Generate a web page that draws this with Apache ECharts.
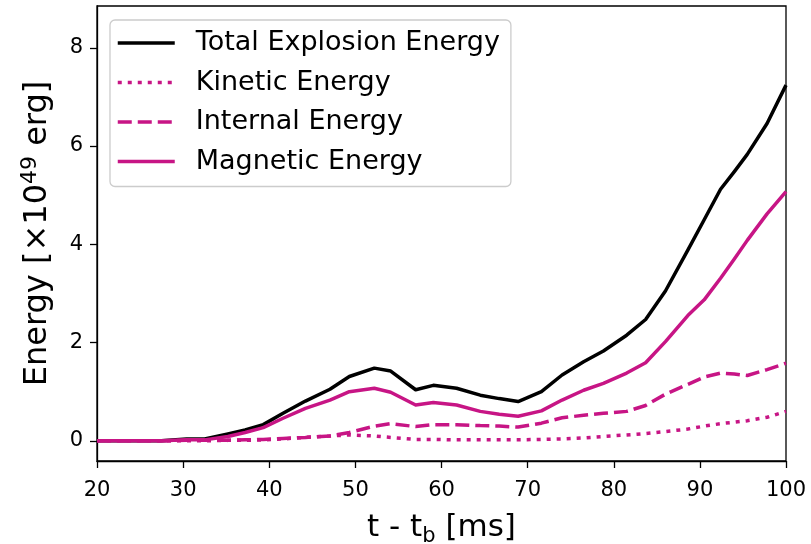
<!DOCTYPE html>
<html>
<head>
<meta charset="utf-8">
<script src="https://cdn.jsdelivr.net/npm/echarts@6/dist/echarts.min.js"></script>
<style>
html,body{margin:0;padding:0;background:#fff;}
#chart{width:811px;height:544px;}
</style>
</head>
<body>
<div id="chart"></div>
<script>
const time = [20, 22.5, 25, 27.5, 30.4, 32.5, 35.2, 37.2, 39.3, 41.6, 44.2, 47.05, 49.3, 52.2, 54.1, 57.0, 59.05, 61.75, 64.5, 66.7, 68.9, 71.6, 74.0, 76.5, 78.8, 81.5, 83.7, 86.0, 88.6, 90.5, 92.4, 94.0, 95.5, 97.8, 100];
const totalEnergy = [0, 0, 0, 0, 0.04, 0.04, 0.14, 0.22, 0.33, 0.56, 0.81, 1.05, 1.31, 1.48, 1.42, 1.04, 1.13, 1.07, 0.93, 0.86, 0.80, 1.00, 1.34, 1.61, 1.83, 2.15, 2.47, 3.05, 3.88, 4.50, 5.12, 5.48, 5.83, 6.46, 7.24];
const kineticEnergy = [0, 0, 0, 0, 0, 0, 0.01, 0.01, 0.02, 0.04, 0.07, 0.10, 0.12, 0.10, 0.07, 0.03, 0.03, 0.02, 0.02, 0.02, 0.02, 0.03, 0.04, 0.06, 0.09, 0.12, 0.15, 0.19, 0.24, 0.30, 0.35, 0.38, 0.41, 0.48, 0.60];
const internalEnergy = [0, 0, 0, 0, 0.01, 0.01, 0.01, 0.02, 0.03, 0.05, 0.07, 0.10, 0.17, 0.30, 0.35, 0.29, 0.33, 0.33, 0.31, 0.30, 0.28, 0.36, 0.47, 0.52, 0.56, 0.60, 0.72, 0.95, 1.15, 1.30, 1.38, 1.36, 1.33, 1.45, 1.58];
const magneticEnergy = [0, 0, 0, 0, 0.02, 0.02, 0.09, 0.17, 0.27, 0.46, 0.66, 0.83, 1.00, 1.07, 0.99, 0.73, 0.78, 0.73, 0.60, 0.54, 0.50, 0.61, 0.83, 1.03, 1.17, 1.38, 1.59, 2.02, 2.55, 2.87, 3.31, 3.70, 4.08, 4.62, 5.07];
const seriesNames = ['Total Explosion Energy', 'Kinetic Energy', 'Internal Energy', 'Magnetic Energy'];
const xTicks = [20, 30, 40, 50, 60, 70, 80, 90, 100];
const yTicks = [0, 2, 4, 6, 8];

const MAG = '#c71585';
const FONT = 'DejaVu Sans';
function pairs(ys) { return time.map((t, i) => [t, ys[i]]); }

const chart = echarts.init(document.getElementById('chart'), null, {renderer: 'canvas'});
chart.setOption({
  animation: false,
  backgroundColor: '#ffffff',
  textStyle: {fontFamily: FONT, color: '#000'},
  grid: {left: 97, right: 25, top: 6, bottom: 83, outerBoundsMode: 'none', containLabel: false,
    show: true, borderColor: '#000', borderWidth: 1.3, backgroundColor: 'transparent'},
  legend: {
    left: 110, top: 20, orient: 'vertical',
    data: seriesNames,
    itemWidth: 57, itemHeight: 14, itemGap: 9.5,
    padding: [8, 11, 10, 6],
    backgroundColor: 'rgba(255,255,255,0.8)',
    borderColor: '#cccccc', borderWidth: 1.3, borderRadius: 5,
    itemStyle: {opacity: 0},
    lineStyle: {width: 3.5},
    textStyle: {fontFamily: FONT, fontSize: 27, color: '#000', lineHeight: 30, padding: [0, 0, 0, 16]}
  },
  xAxis: {
    type: 'value', min: 20, max: 100, interval: 10,
    name: 't - t{sub|b} [ms]', nameLocation: 'middle', nameGap: 48,
    nameTextStyle: {fontFamily: FONT, fontSize: 31, color: '#000', lineHeight: 38,
      rich: {sub: {fontFamily: FONT, fontSize: 21, verticalAlign: 'bottom', lineHeight: 24}}},
    axisLine: {show: true, onZero: false, lineStyle: {color: '#000', width: 1.3}},
    axisTick: {show: true, length: 7, lineStyle: {color: '#000', width: 1.3}, customValues: xTicks},
    axisLabel: {fontFamily: FONT, fontSize: 21, color: '#000', margin: 19, customValues: xTicks},
    splitLine: {show: false}
  },
  yAxis: {
    type: 'value', min: -0.41, max: 8.85,
    name: 'Energy [×10{sup|49} erg]', nameLocation: 'middle', nameGap: 40, nameRotate: 90,
    nameTextStyle: {fontFamily: FONT, fontSize: 32, color: '#000', lineHeight: 38,
      rich: {sup: {fontFamily: FONT, fontSize: 22, verticalAlign: 'top', lineHeight: 24}}},
    axisLine: {show: true, onZero: false, lineStyle: {color: '#000', width: 1.3}},
    axisTick: {show: true, length: 7, lineStyle: {color: '#000', width: 1.3}, customValues: yTicks},
    axisLabel: {fontFamily: FONT, fontSize: 21, color: '#000', margin: 14, customValues: yTicks},
    splitLine: {show: false}
  },
  series: [
    {name: seriesNames[0], type: 'line', symbol: 'none', data: pairs(totalEnergy), color: '#000',
      lineStyle: {color: '#000', width: 3.5, cap: 'butt', join: 'round'}},
    {name: seriesNames[1], type: 'line', symbol: 'none', data: pairs(kineticEnergy), color: MAG,
      lineStyle: {color: MAG, width: 3.5, type: [4, 6], cap: 'butt'}},
    {name: seriesNames[2], type: 'line', symbol: 'none', data: pairs(internalEnergy), color: MAG,
      lineStyle: {color: MAG, width: 3.5, type: [14, 6], cap: 'butt'}},
    {name: seriesNames[3], type: 'line', symbol: 'none', data: pairs(magneticEnergy), color: MAG,
      lineStyle: {color: MAG, width: 3.5, cap: 'butt', join: 'round'}}
  ]
});
</script>
</body>
</html>
